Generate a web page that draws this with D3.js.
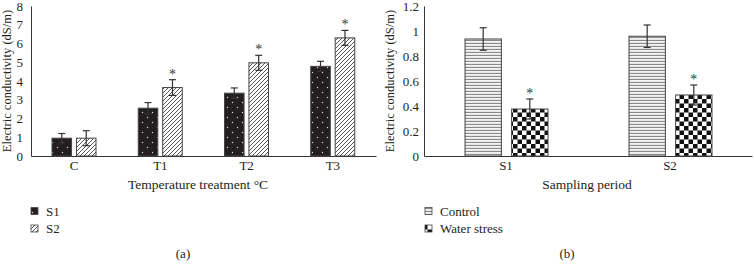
<!DOCTYPE html>
<html>
<head>
<meta charset="utf-8">
<script src="https://cdn.jsdelivr.net/npm/d3@7"></script>
<style>
  body { margin: 0; background: #fff; }
  text { font-family: "Liberation Serif", "DejaVu Serif", serif; fill: #231f20; }
</style>
</head>
<body>
<svg id="chart" width="754" height="272"></svg>
<script>
// panel (a): temperature treatment
const tempCategories = ["C", "T1", "T2", "T3"];
const tempSeries = ["S1", "S2"];
const tempS1 = [0.95, 2.55, 3.35, 4.78];
const tempS2 = [0.95, 3.65, 4.97, 6.3];
const tempS1Err = [0.25, 0.3, 0.28, 0.27];
const tempS2Err = [0.4, 0.42, 0.4, 0.4];
const tempS2Star = [false, true, true, true];
const tempTicks = [0, 1, 2, 3, 4, 5, 6, 7, 8];

// panel (b): sampling period
const periodCategories = ["S1", "S2"];
const periodSeries = ["Control", "Water stress"];
const controlVals = [0.936, 0.958];
const stressVals = [0.376, 0.488];
const controlErr = [0.09, 0.09];
const stressErr = [0.08, 0.08];
const stressStar = [true, true];
const periodTicks = [0, 0.2, 0.4, 0.6, 0.8, 1, 1.2];

const svg = d3.select("#chart");
const defs = svg.append("defs");

// ---- patterns ----
const pDots = defs.append("pattern").attr("id", "dots")
  .attr("patternUnits", "userSpaceOnUse").attr("width", 10).attr("height", 10);
pDots.append("rect").attr("width", 10).attr("height", 10).attr("fill", "#231f20");
pDots.append("circle").attr("cx", 2.5).attr("cy", 2.5).attr("r", 0.7).attr("fill", "#ddd");
pDots.append("circle").attr("cx", 7.5).attr("cy", 7.5).attr("r", 0.7).attr("fill", "#ddd");

const pHatch = defs.append("pattern").attr("id", "hatch")
  .attr("patternUnits", "userSpaceOnUse").attr("width", 4).attr("height", 4);
pHatch.append("rect").attr("width", 4).attr("height", 4).attr("fill", "#fff");
pHatch.append("path").attr("d", "M-1,1 l2,-2 M0,4 l4,-4 M3,5 l2,-2")
  .attr("stroke", "#444").attr("stroke-width", 0.9);

const pHoriz = defs.append("pattern").attr("id", "horiz")
  .attr("patternUnits", "userSpaceOnUse").attr("width", 4).attr("height", 3);
pHoriz.append("rect").attr("width", 4).attr("height", 3).attr("fill", "#fff");
pHoriz.append("rect").attr("y", 0.8).attr("width", 4).attr("height", 1.3).attr("fill", "#8a8a8a");

const pCheck = defs.append("pattern").attr("id", "checker")
  .attr("patternUnits", "userSpaceOnUse").attr("width", 9).attr("height", 9);
pCheck.append("rect").attr("width", 9).attr("height", 9).attr("fill", "#fff");
pCheck.append("rect").attr("width", 4.5).attr("height", 4.5).attr("fill", "#111");
pCheck.append("rect").attr("x", 4.5).attr("y", 4.5).attr("width", 4.5).attr("height", 4.5).attr("fill", "#111");

const FONT = 13;

function drawPanel (opts) {
  const g = svg.append("g");
  const y = d3.scaleLinear().domain(opts.yDomain).range([156, 6]);
  const x0 = d3.scaleBand().domain(opts.categories).range([opts.left, opts.right]).padding(0);
  const x1 = d3.scaleBand().domain(opts.series).range(opts.groupRange).paddingInner(opts.inner);

  // y axis
  const ay = g.append("g").attr("transform", `translate(${opts.left},0)`)
    .call(d3.axisLeft(y).tickValues(opts.ticks).tickSize(0).tickPadding(opts.tickPad).tickFormat(opts.fmt));
  ay.select(".domain").attr("stroke", "#333");
  ay.selectAll("text").attr("font-size", FONT).attr("font-family", "Liberation Serif").attr("fill", "#231f20");

  // x axis
  const ax = g.append("g").attr("transform", `translate(0,156)`)
    .call(d3.axisBottom(x0).tickSize(0).tickPadding(5));
  ax.select(".domain").attr("stroke", "#333");
  ax.selectAll("text").attr("font-size", FONT).attr("font-family", "Liberation Serif").attr("fill", "#231f20");

  // bars
  opts.series.forEach((s, si) => {
    const vals = opts.values[si];
    const errs = opts.errors[si];
    opts.categories.forEach((c, ci) => {
      const bx = x0(c) + x1(s);
      const bw = x1.bandwidth();
      g.append("rect")
        .attr("x", bx).attr("y", y(vals[ci]))
        .attr("width", bw).attr("height", y(0) - y(vals[ci]))
        .attr("fill", `url(#${opts.patterns[si]})`)
        .attr("stroke", "#444").attr("stroke-width", 1);
      const cx = bx + bw / 2;
      g.append("line").attr("x1", cx).attr("x2", cx)
        .attr("y1", y(vals[ci] - errs[ci])).attr("y2", y(vals[ci] + errs[ci]))
        .attr("stroke", "#333").attr("stroke-width", 1.2);
      [vals[ci] - errs[ci], vals[ci] + errs[ci]].forEach(v => {
        g.append("line").attr("x1", cx - 3.5).attr("x2", cx + 3.5)
          .attr("y1", y(v)).attr("y2", y(v))
          .attr("stroke", "#333").attr("stroke-width", 1.2);
      });
      if (opts.stars[si] && opts.stars[si][ci]) {
        g.append("text").attr("x", cx).attr("y", y(vals[ci] + errs[ci]) - 1)
          .attr("text-anchor", "middle").attr("font-size", 14)
          .attr("fill", "#333").style("fill", "#333").text("*");
      }
    });
  });

  // titles
  g.append("text")
    .attr("transform", `translate(${opts.yTitleX},${(6 + 156) / 2}) rotate(-90)`)
    .attr("text-anchor", "middle").attr("font-size", 12.5)
    .text("Electric conductivity (dS/m)");
  g.append("text")
    .attr("x", opts.xTitleX).attr("y", 189)
    .attr("text-anchor", "middle").attr("font-size", 13.5)
    .text(opts.xTitle);

  // legend
  opts.series.forEach((s, si) => {
    const ly = 211 + si * 17.5;
    g.append("rect").attr("x", opts.legendX - 3).attr("y", ly - 3.5)
      .attr("width", 7).attr("height", 7)
      .attr("fill", `url(#${opts.patterns[si]})`)
      .attr("stroke", "#444").attr("stroke-width", 0.8);
    g.append("text").attr("x", opts.legendX + 12).attr("y", ly + 4.5)
      .attr("font-size", FONT).text(s);
  });

  g.append("text").attr("x", opts.labelX).attr("y", 258)
    .attr("text-anchor", "middle").attr("font-size", FONT).text(opts.label);
}

drawPanel({
  left: 31, right: 376,
  yDomain: [0, 8], ticks: tempTicks, fmt: d3.format("d"), tickPad: 8,
  categories: tempCategories, series: tempSeries,
  groupRange: [21, 65], inner: 0.2,
  values: [tempS1, tempS2], errors: [tempS1Err, tempS2Err],
  stars: [null, tempS2Star],
  patterns: ["dots", "hatch"],
  yTitleX: 11, xTitleX: 198, xTitle: "Temperature treatment °C",
  legendX: 34, labelX: 183, label: "(a)"
});

drawPanel({
  left: 424, right: 752,
  yDomain: [0, 1.2], ticks: periodTicks, fmt: d => d === 0 ? "0" : d3.format(".1~f")(d), tickPad: 5,
  categories: periodCategories, series: periodSeries,
  groupRange: [41, 124], inner: 0.22,
  values: [controlVals, stressVals], errors: [controlErr, stressErr],
  stars: [null, stressStar],
  patterns: ["horiz", "checker"],
  yTitleX: 394, xTitleX: 587, xTitle: "Sampling period",
  legendX: 428, labelX: 567, label: "(b)"
});
</script>
</body>
</html>
